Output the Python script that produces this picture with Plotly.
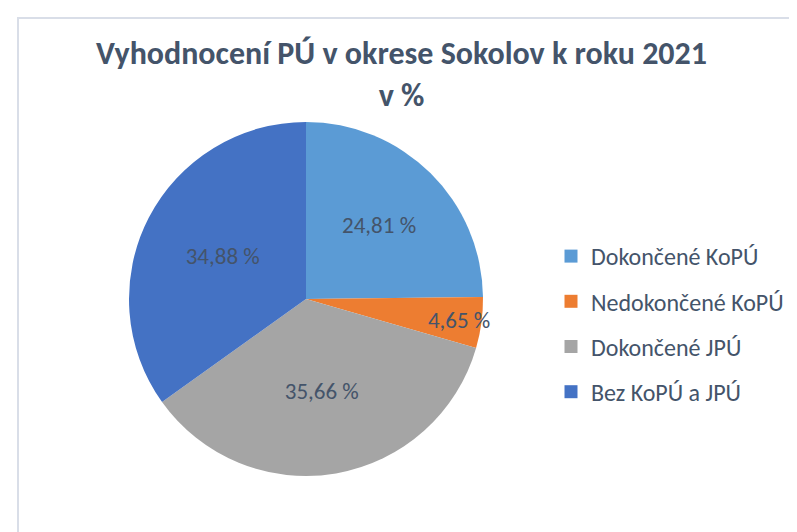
import plotly.graph_objects as go

categories = ["Dokončené KoPÚ", "Nedokončené KoPÚ", "Dokončené JPÚ", "Bez KoPÚ a JPÚ"]
values = [24.81, 4.65, 35.66, 34.88]
colors = ["#5B9BD5", "#ED7D31", "#A5A5A5", "#4472C4"]
title_lines = ["Vyhodnocení PÚ v okrese Sokolov k roku 2021", "v %"]

W, H = 797, 532
FONT = "Carlito, Lato, 'Open Sans', sans-serif"
TXT = "#44546A"

labels_text = [f"{v:.2f}".replace(".", ",") + " %" for v in values]

fig = go.Figure()
fig.add_trace(go.Pie(
    labels=categories,
    values=values,
    text=labels_text,
    textinfo="text",
    textposition="inside",
    insidetextorientation="horizontal",
    sort=False,
    direction="clockwise",
    rotation=0,
    marker=dict(colors=colors, line=dict(width=0)),
    textfont=dict(family=FONT, size=23, color=TXT),
    showlegend=False,
    hoverinfo="label+percent",
    domain=dict(x=[121 / W, 475 / W], y=[64 / H, 418 / H]),
))

for i, (c, col) in enumerate(zip(categories, colors)):
    fig.add_trace(go.Scatter(
        x=[None], y=[None], mode="markers", name=c,
        marker=dict(symbol="square", size=13, color=col),
        legendgroup=f"g{i}", showlegend=True,
    ))

fig.update_layout(
    width=W, height=H,
    margin=dict(l=0, r=0, t=0, b=0),
    paper_bgcolor="white", plot_bgcolor="white",
    xaxis=dict(visible=False), yaxis=dict(visible=False),
    uniformtext=dict(minsize=23, mode="show"),
    legend=dict(
        x=543 / W, y=1 - 226 / H, xanchor="left", yanchor="top",
        font=dict(family=FONT, size=24, color=TXT),
        tracegroupgap=11, bgcolor="rgba(0,0,0,0)",
        itemclick=False,
    ),
    annotations=[dict(
        text="<b>" + "<br>".join(title_lines) + "</b>",
        x=393 / W, y=1 - 24 / H, xref="paper", yref="paper",
        xanchor="center", yanchor="top", showarrow=False,
        font=dict(family=FONT, size=32, color=TXT),
    )],
    shapes=[dict(
        type="rect", xref="paper", yref="paper",
        x0=10 / W, y0=-0.05, x1=1.05, y1=1 - 10 / H,
        line=dict(color="#D9DEE8", width=2), fillcolor="rgba(0,0,0,0)",
        layer="below",
    )],
)

fig.write_html("out.html")
